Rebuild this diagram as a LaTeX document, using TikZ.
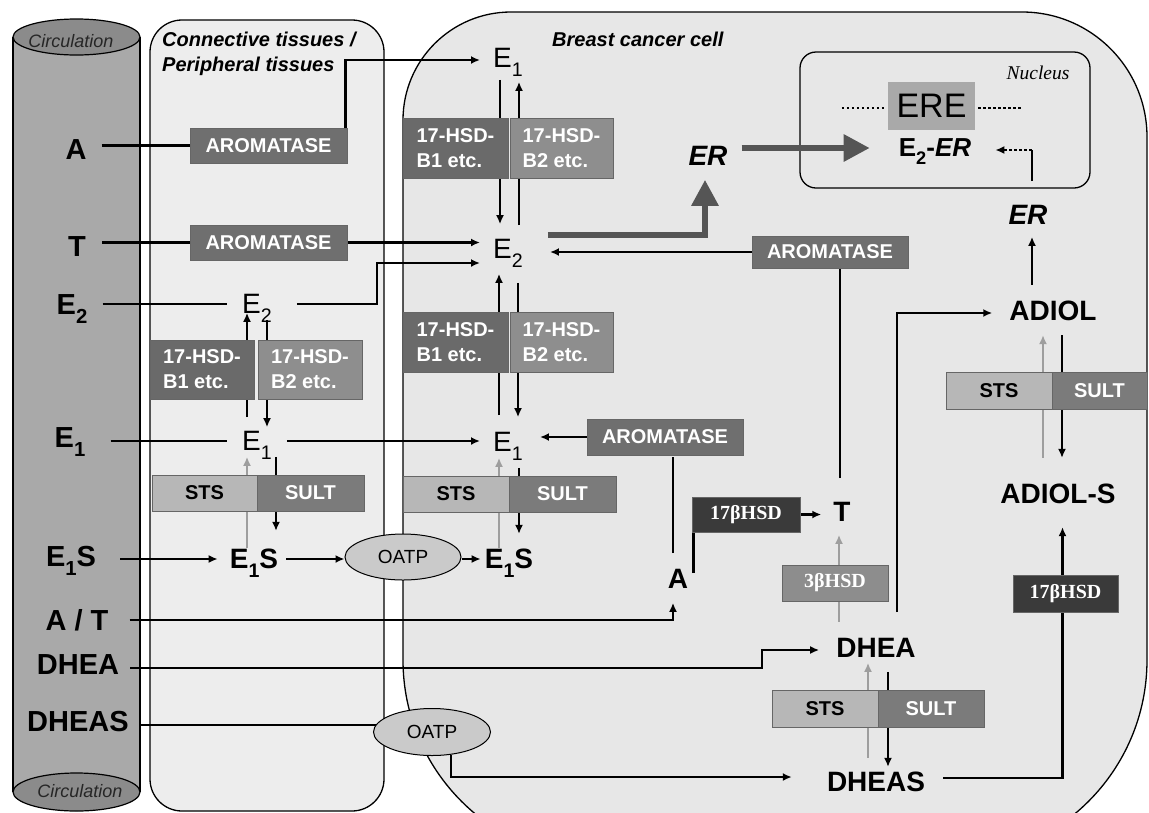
\documentclass[tikz,border=0pt]{standalone}
\usepackage{fontspec}
\setmainfont{Liberation Sans}
\newfontfamily\tnr{Liberation Serif}
\usetikzlibrary{arrows.meta,calc,shapes.geometric}
\makeatletter
\newcommand\lsub[1]{\raisebox{-0.3em}[0pt][0pt]{\fontsize{\strip@pt\dimexpr\f@size pt*7/10\relax}{0}\selectfont#1}}
\makeatother
\definecolor{cellfill}{HTML}{E7E7E7}
\definecolor{connfill}{HTML}{EDEDED}
\definecolor{cylbody}{HTML}{A9A9A9}
\definecolor{cylend}{HTML}{8B8B8B}
\definecolor{aro}{HTML}{6F6F6F}
\definecolor{hsdone}{HTML}{6A6A6A}
\definecolor{hsdtwo}{HTML}{8E8E8E}
\definecolor{stsc}{HTML}{B7B7B7}
\definecolor{sultc}{HTML}{7B7B7B}
\definecolor{darkhsd}{HTML}{3A3A3A}
\definecolor{hsdthree}{HTML}{8D8D8D}
\definecolor{ere}{HTML}{A9A9A9}
\definecolor{oatpc}{HTML}{CACACA}
\definecolor{garrow}{HTML}{9E9E9E}
\definecolor{bigc}{HTML}{555555}
\pgfdeclarelayer{back}
\pgfdeclarelayer{links}
\pgfsetlayers{back,links,main}
\tikzset{
 ln/.style={line width=2.6pt, draw=black},
 arr/.style={ln, -{Latex[length=9pt,width=8pt]}},
 gln/.style={line width=2.6pt, draw=garrow},
 garr/.style={gln, -{Latex[length=9pt,width=8pt]}},
 dotl/.style={line width=2.6pt, draw=black, dash pattern=on 2.6pt off 2.4pt},
 dotarr/.style={dotl, -{Latex[length=9pt,width=8pt]}},
 bigarr/.style={line width=6pt, draw=bigc, -{Triangle[length=26pt,width=26pt]}},
 cmpB/.style={inner sep=0pt, font=\fontsize{29}{32}\selectfont\bfseries},
 cmpR/.style={inner sep=0pt, font=\fontsize{28}{30}\selectfont},
 cmpC/.style={inner sep=0pt, font=\fontsize{28}{30}\selectfont\bfseries},
 cmpI/.style={inner sep=0pt, font=\fontsize{28}{30}\selectfont\bfseries\itshape},
 ebox/.style={draw=black!60, line width=0.8pt, inner sep=0pt, text=white, align=left, font=\fontsize{20}{25}\selectfont\bfseries},
 sbox/.style={ebox, text=black},
 serbox/.style={ebox, font=\tnr\fontsize{20}{24}\selectfont\bfseries},
 ttl/.style={inner sep=0pt, align=left, font=\fontsize{20}{25}\selectfont\bfseries\itshape},
 circ/.style={inner sep=0pt, text=black!85, font=\fontsize{18}{20}\selectfont\itshape},
 oatp/.style={ellipse, draw, line width=1pt, fill=oatpc, inner sep=0pt, font=\fontsize{19}{20}\selectfont},
}
\begin{document}
\begin{tikzpicture}[x=1pt,y=-1pt]
\useasboundingbox (0,0) rectangle (1149,812);
\begin{pgfonlayer}{back}
 \fill[white] (0,0) rectangle (1149,812);
 \draw[line width=1.3pt, fill=cellfill] (403,660) -- (403,120) arc[start angle=180,end angle=90,radius=108pt] -- (1022,12) arc[start angle=90,end angle=0,radius=125pt] -- (1147,660) arc[start angle=0,end angle=-90,radius=200pt] -- (603,860) arc[start angle=270,end angle=180,radius=200pt] -- cycle;
 \draw[line width=1.3pt, fill=connfill, rounded corners=32pt] (150,20) rectangle (384,811);
 \fill[cylbody] (13,37) rectangle (140,792);
 \draw[line width=1.2pt] (13,37) -- (13,792) (140,37) -- (140,792);
 \draw[line width=1.2pt, fill=cylend] (76.5,792) ellipse [x radius=63.5pt, y radius=19pt];
 \draw[line width=1.2pt, fill=cylend] (76.5,37) ellipse [x radius=63.5pt, y radius=18pt];
 \draw[line width=1.3pt, rounded corners=16pt] (800,52) rectangle (1090,188);
\end{pgfonlayer}

% titles
\node[circ] (circTop) at (71,41) {Circulation};
\node[circ] (circBot) at (80,791) {Circulation};
\node[ttl, anchor=north west] (ttlC) at (162,32) {Connective tissues /\\Peripheral tissues};
\node[ttl, anchor=north west] (ttlB) at (552,32) {Breast cancer cell};
\node[inner sep=0pt, font=\tnr\fontsize{19.5}{20}\selectfont\itshape] (nucl) at (1038,73) {Nucleus};

% circulation compounds
\node[cmpB] (cA) at (76,150) {A};
\node[cmpB] (cT) at (77,247) {T};
\node[cmpB] (cE2) at (72,305) {E\lsub{2}};
\node[cmpB] (cE1) at (70,438) {E\lsub{1}};
\node[cmpB] (cE1S) at (71,557) {E\lsub{1}S};
\node[cmpB] (cAT) at (77,620) {A / T};
\node[cmpB] (cDHEA) at (78,665) {DHEA};
\node[cmpB] (cDHEAS) at (78,722) {DHEAS};

% connective tissue compounds
\node[cmpR] (coE2) at (257,304) {E\lsub{2}};
\node[cmpR] (coE1) at (257,441) {E\lsub{1}};
\node[cmpC] (coE1S) at (254,559) {E\lsub{1}S};

% cell compounds
\node[cmpR] (ceE1t) at (508,58) {E\lsub{1}};
\node[cmpR] (ceE2) at (508,249) {E\lsub{2}};
\node[cmpR] (ceE1m) at (508,442) {E\lsub{1}};
\node[cmpC] (ceE1S) at (509,559) {E\lsub{1}S};
\node[cmpI] (ceER) at (708,156) {ER};
\node[cmpC] (ceA) at (678,579) {A};
\node[cmpC] (ceT) at (842,512) {T};
\node[cmpC] (ceDHEA) at (876,648) {DHEA};
\node[cmpC] (ceDHEAS) at (876,782) {DHEAS};
\node[cmpC] (ceADIOL) at (1053,311) {ADIOL};
\node[cmpC] (ceADIOLS) at (1058,494) {ADIOL-S};
\node[cmpI] (ceERr) at (1028,215) {ER};
\node[inner sep=0pt, font=\fontsize{26}{28}\selectfont\bfseries] (E2ER) at (935,148) {E\lsub{2}-\textit{ER}};
\node[fill=ere, minimum width=87pt, minimum height=48pt, inner sep=0pt, font=\fontsize{34}{36}\selectfont] (ERE) at (931.5,106) {\raisebox{-3pt}{ERE}};

% enzymes
\node[ebox, fill=aro, minimum width=157pt, minimum height=35pt] (aroA) at (268.5,145.5) {AROMATASE};
\node[ebox, fill=aro, minimum width=157pt, minimum height=35pt] (aroT) at (268.5,242.5) {AROMATASE};
\node[ebox, fill=aro, minimum width=156pt, minimum height=32pt] (aroR) at (830,252) {AROMATASE};
\node[ebox, fill=aro, minimum width=156pt, minimum height=36pt] (aroM) at (665,437) {AROMATASE};
\node[ebox, fill=hsdone, minimum width=105pt, minimum height=60pt] (hAt) at (455.5,148) {17-HSD-\\B1 etc.};
\node[ebox, fill=hsdtwo, minimum width=103pt, minimum height=60pt] (hBt) at (561.5,148) {17-HSD-\\B2 etc.};
\node[ebox, fill=hsdone, minimum width=105pt, minimum height=60pt] (hAm) at (455.5,342) {17-HSD-\\B1 etc.};
\node[ebox, fill=hsdtwo, minimum width=103pt, minimum height=60pt] (hBm) at (561.5,342) {17-HSD-\\B2 etc.};
\node[ebox, fill=hsdone, minimum width=104pt, minimum height=59pt] (hAc) at (202,369.5) {17-HSD-\\B1 etc.};
\node[ebox, fill=hsdtwo, minimum width=104pt, minimum height=59pt] (hBc) at (310,369.5) {17-HSD-\\B2 etc.};
\node[sbox, fill=stsc, minimum width=105pt, minimum height=36pt] (sC) at (204.5,493) {STS};
\node[ebox, fill=sultc, minimum width=107pt, minimum height=36pt] (uC) at (310.5,493) {SULT};
\node[sbox, fill=stsc, minimum width=106pt, minimum height=36pt] (sM) at (456,494) {STS};
\node[ebox, fill=sultc, minimum width=107pt, minimum height=36pt] (uM) at (562.5,494) {SULT};
\node[sbox, fill=stsc, minimum width=106pt, minimum height=37pt] (sR) at (999,390.5) {STS};
\node[ebox, fill=sultc, minimum width=95pt, minimum height=37pt] (uR) at (1099.5,390.5) {SULT};
\node[sbox, fill=stsc, minimum width=106pt, minimum height=37pt] (sB) at (825,708.5) {STS};
\node[ebox, fill=sultc, minimum width=106pt, minimum height=37pt] (uB) at (931,708.5) {SULT};
\node[serbox, fill=darkhsd, minimum width=108pt, minimum height=35pt] (h17M) at (746,514.5) {17βHSD};
\node[serbox, fill=hsdthree, minimum width=106pt, minimum height=36pt] (h3) at (835,583) {3βHSD};
\node[serbox, fill=darkhsd, minimum width=105pt, minimum height=37pt] (h17R) at (1065.5,593.5) {17βHSD};
\node[oatp, minimum width=116pt, minimum height=46pt] (oatp1) at (403,557) {OATP};
\node[oatp, minimum width=117pt, minimum height=47pt] (oatp2) at (432,732) {OATP};

\begin{pgfonlayer}{links}
% circulation -> connective tissue / cell
\draw[ln] ($(cA.east |- aroA.west)+(15,0)$) -- (aroA.west);
\draw[arr] ($(aroA.north east)+(-2,0)$) |- ($(ceE1t.west)+(-13,2)$);
\draw[ln] ($(cT.east |- aroT.west)+(16,0)$) -- (aroT.west);
\draw[arr] (aroT.east) -- ($(aroT.east -| ceE2.west)+(-13,0)$);
\draw[ln] ($(cE2.east |- coE2.west)+(15,0)$) -- ($(coE2.west)+(-15,0)$);
\draw[arr] ($(coE2.east)+(25,0)$) -| ($(ceE2.west)+(-116,14)$) -- ($(ceE2.west)+(-13,14)$);
\draw[ln] ($(cE1.east |- coE1.west)+(25,0)$) -- ($(coE1.west)+(-15,0)$);
\draw[arr] ($(coE1.east)+(15,0)$) -- ($(coE1.east -| ceE1m.west)+(-13,0)$);
\draw[arr] ($(cE1S.east |- coE1S.west)+(24,0)$) -- ($(coE1S.west)+(-12,0)$);
\draw[arr] ($(coE1S.east)+(8,0)$) -- (oatp1.west |- coE1S.east);
\draw[arr] (oatp1.east |- ceE1S.west) -- ($(ceE1S.west)+(-4,0)$);
\draw[arr] ($(cAT.east)+(21,0)$) -| ($(ceA.south)+(-5,14)$);
\draw[arr] ($(cDHEA.east)+(11,3)$) -| ($(ceDHEA.west)+(-74,2)$) -- ($(ceDHEA.west)+(-17,2)$);
\draw[ln] ($(cDHEAS.east)+(11,3)$) -- ($(oatp2.west)+(3,-7)$);
\draw[arr] (oatp2.-50) |- ($(ceDHEAS.west)+(-35,-5)$);
% connective tissue verticals
\draw[arr] ($(coE1.north)+(-10,-14)$) -- ($(coE2.south)+(-10,-1)$);
\draw[arr] ($(coE2.south)+(10,6)$) -- ($(coE1.north)+(10,-4)$);
\draw[garr] ($(coE1S.north)+(-7,-1)$) -- ($(coE1.south)+(-10,6)$);
\draw[arr] ($(coE1.south)+(19,6)$) -- ($(coE1S.north)+(22,-18)$);
% cell verticals
\draw[arr] ($(ceE1t.south)+(-8,12)$) -- ($(ceE2.north)+(-8,-15)$);
\draw[arr] ($(ceE2.north)+(11,-14)$) -- ($(ceE1t.south)+(11,14)$);
\draw[arr] ($(ceE1m.north)+(-9,-17)$) -- ($(ceE2.south)+(-9,15)$);
\draw[arr] ($(ceE2.south)+(10,24)$) -- ($(ceE1m.north)+(10,-15)$);
\draw[garr] ($(ceE1S.north)+(-10,-1)$) -- ($(ceE1m.south)+(-9,6)$);
\draw[arr] ($(ceE1m.south)+(11,16)$) -- ($(ceE1S.north)+(10,-15)$);
% cell horizontals and others
\draw[arr] (aroM.west) -- ($(aroM.west -| ceE1m.east)+(17,0)$);
\draw[arr] (aroR.west) -- ($(aroR.west -| ceE2.east)+(27,0)$);
\draw[bigarr] ($(ceE2.east)+(25,-14)$) -| ($(ceER.south)+(-3,14)$);
\draw[bigarr] ($(ceER.east)+(14,-8)$) -- ($(ceER.east -| E2ER.west)+(-29,-8)$);
\draw[ln] ($(ceA.north)+(-5,-16)$) -- ($(ceA.north |- aroM.south)+(-5,2)$);
\draw[ln] ($(ceA.east)+(5,-6)$) -- ($(ceA.east |- h17M.south)+(5,0)$);
\draw[arr] (h17M.east) -- ($(h17M.east -| ceT.west)+(-12,0)$);
\draw[ln] ($(ceT.north)+(-2,-24)$) -- ($(ceT.north |- aroR.south)+(-2,0)$);
\draw[gln] ($(h3.south)+(4,0)$) -- ($(h3.south |- ceDHEA.north)+(4,-16)$);
\draw[garr] ($(h3.north)+(4,0)$) -- ($(h3.north |- ceT.south)+(4,13)$);
\draw[arr] ($(ceDHEA.north)+(21,-26)$) |- ($(ceADIOL.west)+(-17,2)$);
\draw[garr] ($(ceDHEAS.north)+(-8,-14)$) -- ($(ceDHEA.south)+(-8,5)$);
\draw[arr] ($(ceDHEA.south)+(12,14)$) -- ($(ceDHEAS.north)+(12,-5)$);
\draw[ln] ($(ceDHEAS.east)+(18,-4)$) -| ($(h17R.south)+(-3,0)$);
\draw[arr] ($(h17R.north)+(-3,0)$) -- ($(h17R.north |- ceADIOLS.south)+(-3,23)$);
\draw[garr] ($(ceADIOLS.north)+(-15,-26)$) -- ($(ceADIOL.south)+(-10,14)$);
\draw[arr] ($(ceADIOL.south)+(9,14)$) -- ($(ceADIOLS.north)+(4,-26)$);
\draw[arr] ($(ceADIOL.north)+(-21,-16)$) -- ($(ceERr.south)+(4,12)$);
\draw[ln] ($(ceERr.north)+(4,-24)$) -- ($(ceERr.north |- E2ER.east)+(4,2)$);
\draw[dotarr] ($(ceERr.north |- E2ER.east)+(4,2)$) -- ($(E2ER.east)+(24,2)$);
\draw[dotl] ($(ERE.west)+(-46,2)$) -- ($(ERE.west)+(-4,2)$);
\draw[dotl] ($(ERE.east)+(3,2)$) -- ($(ERE.east)+(47,2)$);
\end{pgfonlayer}
\end{tikzpicture}
\end{document}
